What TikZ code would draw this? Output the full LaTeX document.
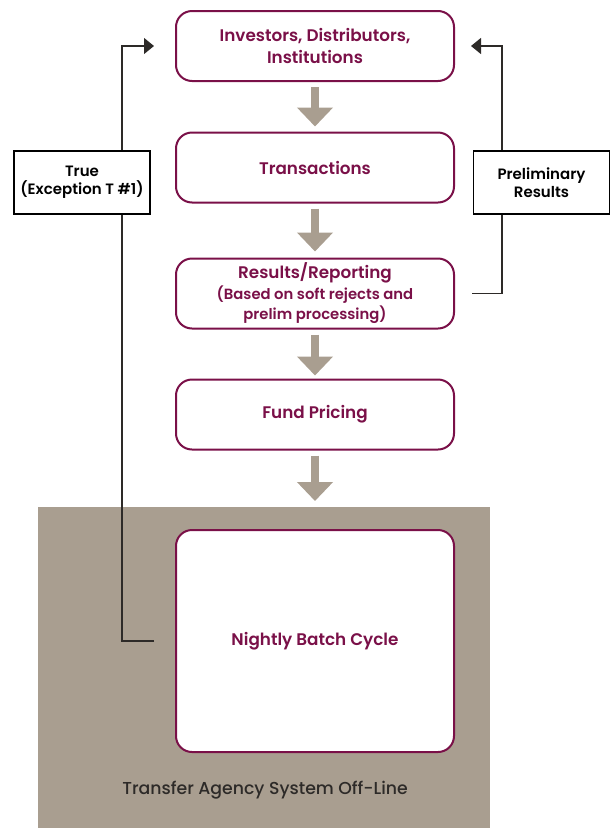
\documentclass[tikz,border=0pt]{standalone}
\usepackage{fontspec}
\setmainfont{Poppins}[BoldFont={Poppins SemiBold}]
\newfontfamily\mediumfont{Poppins Medium}
\usetikzlibrary{arrows.meta}
\usetikzlibrary{positioning}

\definecolor{maroon}{RGB}{122,16,72}
\definecolor{taupe}{RGB}{169,158,144}
\definecolor{ink}{RGB}{45,42,40}

\tikzset{
 stage/.style={draw=maroon, line width=2pt, rounded corners=16pt, fill=white,
   minimum width=278pt, minimum height=70pt, align=center, text=maroon,
   font=\bfseries\fontsize{16.8}{22}\selectfont},
 note/.style={draw=black, line width=1.8pt, fill=white, minimum width=136pt,
   minimum height=63pt, align=center, font=\bfseries\fontsize{15}{18}\selectfont},
 flow/.style={taupe, line width=8pt, -{Triangle[length=19pt,width=35pt]}},
 link/.style={ink, line width=1.2pt, -{Triangle[length=10pt,width=16pt]}},
}

\begin{document}
\begin{tikzpicture}[x=1pt,y=-1pt]
\useasboundingbox (0,0) rectangle (610,828);
% off-line area
\fill[taupe] (38,507) rectangle (490,828);
\node[text=ink, font=\mediumfont\fontsize{17.3}{20}\selectfont] (offline) at (265,790) {Transfer Agency System Off-Line};

\node[stage] (inv) at (315,46) {Investors, Distributors,\\Institutions};
\node[stage] (trans) at (315,167.5) {Transactions};
\node[stage] (res) at (315,293.5) {Results/Reporting\\[-1pt]{\fontsize{14.8}{17}\selectfont(Based on soft rejects and}\\[-2pt]{\fontsize{14.8}{17}\selectfont prelim processing)}};
\node[stage] (fund) at (315,414.5) {Fund Pricing};
\node[stage, minimum height=222pt] (batch) at (315,641) {Nightly Batch Cycle};

\foreach \a/\b/\s in {inv/trans/5, trans/res/6, res/fund/3, fund/batch/28} {
 \draw[flow, shorten <=5pt, shorten >=\s pt] (\a.south) -- (\b.north);
}

% feedback lines
\draw[link] ([xshift=-21pt]batch.west) -- ++(-32,0) |- ([xshift=-21pt]inv.west);
\draw[link] ([xshift=17pt]res.east) -- ++(30,0) |- ([xshift=16pt]inv.east);

\node[note] (true) at (82,182.5) {True\\(Exception T \#1)};
\node[note] (prelim) at (541.5,182.5) {Preliminary\\Results};
\end{tikzpicture}
\end{document}
